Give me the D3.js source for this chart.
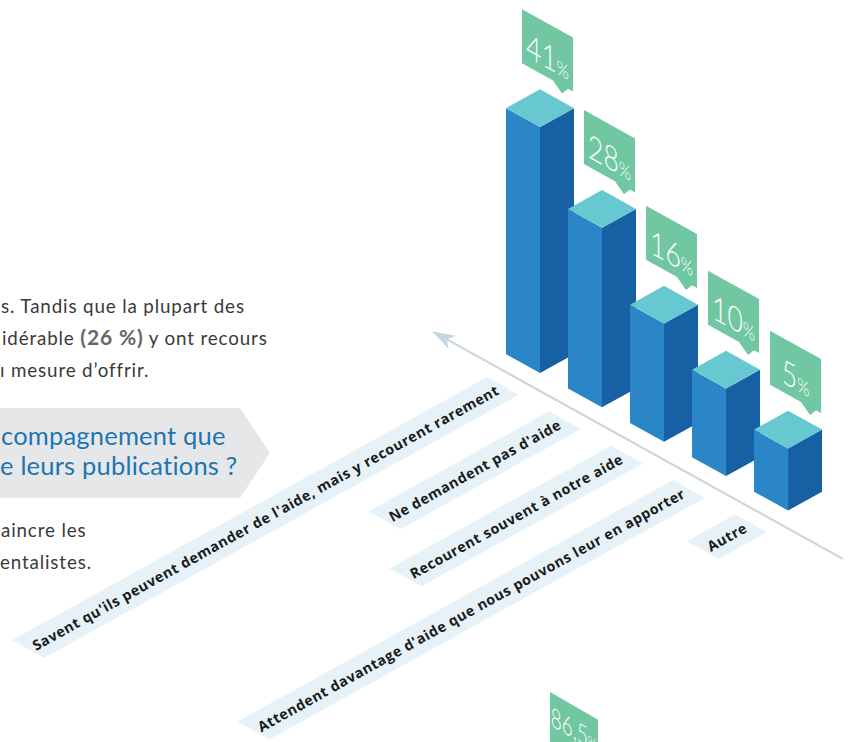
<!DOCTYPE html>
<html>
<head>
<meta charset="utf-8">
<script src="https://cdn.jsdelivr.net/npm/d3@7"></script>
<style>
  html, body { margin: 0; padding: 0; background: #ffffff; }
  svg { display: block; }
</style>
</head>
<body>
<svg id="chart" width="850" height="742"></svg>
<script>
// ---------------- DATA ----------------
const categories = [
  "Savent qu'ils peuvent demander de l'aide, mais y recourent rarement",
  "Ne demandent pas d'aide",
  "Recourent souvent à notre aide",
  "Attendent davantage d'aide que nous pouvons leur en apporter",
  "Autre"
];
const values = [41, 28, 16, 10, 5];
const valueLabels = ["41", "28", "16", "10", "5"];
const valueUnit = "%";

const introLines = ["s. Tandis que la plupart des", "idérable ", "(26 %)", " y ont recours", "ı mesure d’offrir."];
const questionLines = ["compagnement que", "e leurs publications ?"];
const outroLines = ["aincre les", "entalistes."];
const extraCallout = ["86,5", "%"];

// ---------------- GEOMETRY ----------------
const svg = d3.select("#chart");
const ang = 29 * Math.PI / 180;
const U = [Math.cos(ang), Math.sin(ang)];   // down-right isometric axis
const V = [Math.cos(ang), -Math.sin(ang)];  // up-right isometric axis
const origin = [540, 373];                  // front-bottom corner of first bar
const halfW = 34, halfH = halfW * Math.tan(ang);

const pos = d3.scalePoint().domain(categories).range([0, 283.6]);
const hScale = d3.scaleLinear().domain([0, 41]).range([36.5, 246]);

const pt = s => [origin[0] + s * U[0], origin[1] + s * U[1]];
const add = (p, v, k) => [p[0] + v[0] * k, p[1] + v[1] * k];
const poly = arr => arr.map(p => p.join(",")).join(" ");

const colors = {
  left: "#2a86c6", right: "#1660a3", top: "#67c8d1",
  callout: "#70c7a2", band: "#e6f2f8", axis: "#c8d5dc",
  label: "#1a1a1a", body: "#3a3a3a", bodyBold: "#666666",
  banner: "#e6e7e8", question: "#1c76b1"
};

// ---------------- LEFT TEXT ----------------
const body = svg.append("g")
  .attr("font-family", "Lato, 'Open Sans', sans-serif")
  .attr("font-size", 18.8)
  .attr("letter-spacing", 0.85)
  .attr("fill", colors.body);

body.append("text").attr("x", 1).attr("y", 313).text(introLines[0]);
const l2 = body.append("text").attr("x", 2).attr("y", 345);
l2.append("tspan").text(introLines[1]);
l2.append("tspan").attr("font-weight", 700).attr("font-size", 21).attr("fill", colors.bodyBold).text(introLines[2]);
l2.append("tspan").text(introLines[3]);
body.append("text").attr("x", 0).attr("y", 377).text(introLines[4]);

svg.append("path")
  .attr("d", "M-10,408 L240,408 L270,453 L240,498 L-10,498 Z")
  .attr("fill", colors.banner);

const q = svg.append("g")
  .attr("font-family", "Lato, 'Open Sans', sans-serif")
  .attr("font-size", 25.5)
  .attr("letter-spacing", 0.2)
  .attr("fill", colors.question);
q.append("text").attr("x", 1).attr("y", 445).text(questionLines[0]);
q.append("text").attr("x", 0).attr("y", 475).text(questionLines[1]);

body.append("text").attr("x", 1).attr("y", 537).text(outroLines[0]);
body.append("text").attr("x", 0).attr("y", 569).text(outroLines[1]);

// ---------------- AXIS LINE ----------------
const axisStart = add(pt(-123.5), [0, 1], 18);
const axisEnd = add(pt(346.4), [0, 1], 18);
svg.append("line")
  .attr("x1", axisStart[0] + U[0] * 12).attr("y1", axisStart[1] + U[1] * 12)
  .attr("x2", axisEnd[0]).attr("y2", axisEnd[1])
  .attr("stroke", colors.axis).attr("stroke-width", 2);
const P = [-U[1], U[0]];
const head = [
  axisStart,
  add(add(axisStart, U, 23), P, 7.5),
  add(axisStart, U, 17),
  add(add(axisStart, U, 23), P, -7.5)
];
svg.append("polygon").attr("points", poly(head)).attr("fill", colors.axis);

// ---------------- CATEGORY BANDS ----------------
const bandT = 36.6, pad = 6;
const bands = svg.append("g");
categories.forEach((c, i) => {
  const base = pt(pos(c));
  const P0 = [base[0] - 53, base[1] + 4];
  const g = bands.append("g");
  const bandPoly = g.append("polygon").attr("fill", colors.band);
  const anchor = add(add(P0, U, bandT / 2), V, -pad);
  const txt = g.append("text")
    .attr("transform", `translate(${anchor[0]},${anchor[1]}) rotate(${-29})`)
    .attr("text-anchor", "end")
    .attr("dominant-baseline", "central")
    .attr("font-family", "'Open Sans', Lato, sans-serif")
    .attr("font-weight", 700)
    .attr("font-size", 14.2)
    .attr("letter-spacing", 0.6)
    .attr("fill", colors.label)
    .text(c);
  const L = txt.node().getComputedTextLength() + 2 * pad;
  const P1 = add(P0, U, bandT);
  bandPoly.attr("points", poly([P0, P1, add(P1, V, -L), add(P0, V, -L)]));
});

// ---------------- BARS ----------------
const bars = svg.append("g");
categories.forEach((c, i) => {
  const [cx, by] = pt(pos(c));
  const ty = by - hScale(values[i]);
  const g = bars.append("g");
  g.append("polygon").attr("fill", colors.left)
    .attr("points", poly([[cx - halfW, ty - halfH], [cx, ty], [cx, by], [cx - halfW, by - halfH]]));
  g.append("polygon").attr("fill", colors.right)
    .attr("points", poly([[cx, ty], [cx + halfW, ty - halfH], [cx + halfW, by - halfH], [cx, by]]));
  g.append("polygon").attr("fill", colors.top)
    .attr("points", poly([[cx, ty], [cx - halfW, ty - halfH], [cx, ty - 2 * halfH], [cx + halfW, ty - halfH]]));

  // callout
  const x0 = cx - 18, y0 = ty - 2 * halfH - 80;
  const cg = svg.append("g")
    .attr("transform", `translate(${x0},${y0}) skewY(29)`);
  cg.append("path")
    .attr("d", "M0,0 L51,0 L51,54 L46,54 L40,62 L31,54 L0,54 Z")
    .attr("fill", colors.callout);
  const t = cg.append("text")
    .attr("transform", "translate(25.5,45) scale(0.78,1)")
    .attr("text-anchor", "middle")
    .attr("font-family", "Lato, sans-serif")
    .attr("font-weight", 300)
    .attr("font-size", 34)
    .attr("fill", "#ffffff");
  t.append("tspan").text(valueLabels[i]);
  t.append("tspan").attr("font-size", 20).text(valueUnit);
});

// ---------------- EXTRA (cropped) CALLOUT ----------------
const eg = svg.append("g").attr("transform", "translate(550,692) skewY(30)");
eg.append("rect").attr("x", 0).attr("y", 0).attr("width", 48).attr("height", 70).attr("fill", colors.callout);
const et = eg.append("text")
  .attr("transform", "translate(24,33) scale(0.7,1)")
  .attr("text-anchor", "middle")
  .attr("font-family", "Lato, sans-serif")
  .attr("font-weight", 300)
  .attr("font-size", 27)
  .attr("fill", "#ffffff");
et.append("tspan").text(extraCallout[0]);
et.append("tspan").attr("font-size", 17).text(extraCallout[1]);
</script>
</body>
</html>
